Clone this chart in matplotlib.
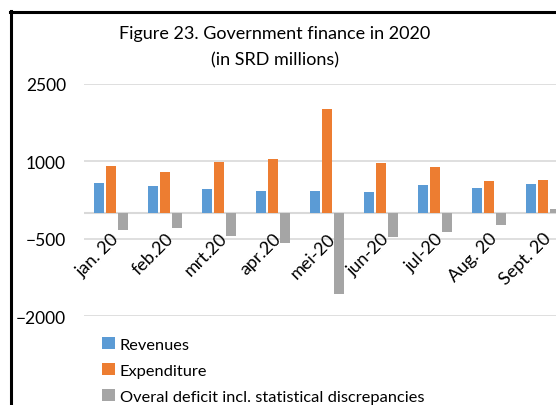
import numpy as np
import matplotlib
matplotlib.use("Agg")
from matplotlib import pyplot as plt
from matplotlib.lines import Line2D

plt.rcParams['font.family'] = ['Lato', 'DejaVu Sans']

months = ['jan. 20', 'feb.20', 'mrt.20', 'apr.20', 'mei-20',
          'jun-20', 'jul-20', 'Aug. 20', 'Sept. 20']
revenues = [580, 530, 470, 420, 420, 400, 545, 480, 570]
expenditure = [905, 795, 980, 1055, 2020, 975, 895, 615, 640]
deficit = [-320, -285, -445, -580, -1565, -455, -370, -240, 80]

W, H = 556, 406
fig = plt.figure(figsize=(W / 100, H / 100), dpi=100)

# plot area runs past the right edge of the image, as in the source sheet
left, right = 84, 570
top, bottom = 85, 317.3
ax = fig.add_axes([left / W, 1 - bottom / H, (right - left) / W, (bottom - top) / H])

x = np.arange(len(months))
bw = 10 / 54
step = 12 / 54
ax.bar(x - step, revenues, bw, color='#5B9BD5', label='Revenues', zorder=3)
ax.bar(x, expenditure, bw, color='#ED7D31', label='Expenditure', zorder=3)
ax.bar(x + step, deficit, bw, color='#A5A5A5',
       label='Overal deficit incl. statistical discrepancies', zorder=3)

ax.set_xlim(-0.5, len(months) - 0.5)
ax.set_ylim(-2000, 2500)
ax.set_yticks([-2000, -500, 1000, 2500])
ax.yaxis.grid(True, color='#D9D9D9', linewidth=1.2, zorder=0)
ax.axhline(0, color='#D9D9D9', linewidth=1.5, zorder=2)
ax.tick_params(axis='y', length=0, pad=13, labelsize=12.5)
ax.set_xticks([])
for s in ax.spines.values():
    s.set_visible(False)

for xi, m in zip(x, months):
    ax.annotate(m, xy=(xi, 0), xytext=(0, -12), textcoords='offset points',
                rotation=45, ha='right', va='top', rotation_mode='anchor',
                fontsize=13)

fig.text(275 / W, 1 - 34 / H, 'Figure 23. Government finance in 2020',
         ha='center', va='center', fontsize=13)
fig.text(275 / W, 1 - 60 / H, '(in SRD millions)',
         ha='center', va='center', fontsize=13)

handles, labels = ax.get_legend_handles_labels()
fig.legend(handles, labels, loc='upper left', bbox_to_anchor=(95 / W, 1 - 331 / H),
           frameon=False, fontsize=11.8, handlelength=0.8, handleheight=0.8,
           handletextpad=0.3, labelspacing=0.68, borderaxespad=0)

# chart border (only the top and left edges fall inside the image)
fig.add_artist(Line2D([10.5 / W, 10.5 / W], [1 - 12 / H, -0.1],
                      color='black', linewidth=2.2, transform=fig.transFigure))
fig.add_artist(Line2D([9.5 / W, 1.1], [1 - 12.5 / H, 1 - 12.5 / H],
                      color='black', linewidth=2.2, transform=fig.transFigure))

fig.savefig('out.png', dpi=100)
